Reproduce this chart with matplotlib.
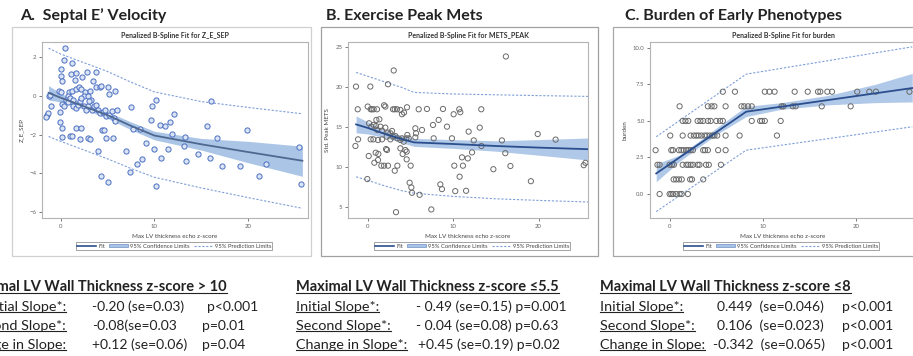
import matplotlib
matplotlib.use("Agg")
import matplotlib.pyplot as plt
from matplotlib.lines import Line2D
from matplotlib.patches import Patch, Rectangle
import numpy as np

W, H = 913, 356

# ---- Panel A : Septal E' velocity (Z_E_SEP) ----
a_x = [0.5, 0.32, 1.25, 0.07, 0.0, 0.18, 1.07, 1.67, 1.53, 2.8, 2.24, 3.8, 3.45, 3.8, 4.16, 4.27,
       5.05, 5.2, 5.8, -0.18, 0.07, 0.9, 0.8, 1.2, 1.67, 1.96, 2.2, 2.56, 3.17, 2.46, 2.95, 3.27,
       -1.25, -1.1, -1.0, -1.46, -1.32, -1.53, -0.1, 0.1, 0.32,
       0.6, 0.78, 1.03, 1.32, 1.32, 1.67, 1.89, 2.03, 2.2, 2.46, 2.74, 2.92, 3.03, 3.38, 3.52,
       3.8, 4.02, 4.23, 4.52, 4.7, 4.88, 5.17, 5.45, 5.67, 5.81, 6.0,
       -0.07, 0.1, 1.6, 2.2, 2.1, 1.03, 1.17, 0.1, 2.88, 3.1, 4.45, 4.6, 4.8, 5.6, 4.0, 4.27, 5.05,
       6.94, 7.55, 7.7, 7.44, 8.43, 8.15, 8.7, 9.15, 9.68, 9.79, 10.14, 9.93, 10.14, 10.64, 10.7,
       11.1, 11.46, 11.7, 12.06, 11.85, 13.13, 13.24, 13.35, 14.66, 15.66, 16.09, 15.98, 16.69,
       17.26, 19.18, 19.89, 21.89, 21.17, 25.44, 25.7]
a_y = [2.45, 1.82, 1.68, 1.37, 1.0, 0.74, 1.13, 1.17, 0.82, 1.2, 0.96, 1.22, 0.74, 0.45, 0.45, 0.52,
       0.45, 0.1, 0.22, 0.27, 0.2, 0.17, -0.03, 0.27, 0.34, 0.45, 0.34, 0.17, 0.26, -0.03, -0.03, -0.21,
       -0.03, 0.05, -0.52, -0.98, -0.89, -1.1, -0.86, -0.43, -0.52,
       -0.21, -0.34, -0.14, -0.21, -0.52, -0.64, -0.46, -0.29, -0.12, -0.52, -0.72, -0.55, -0.29, -0.72, -0.55,
       -0.46, -0.72, -0.89, -0.86, -0.72, -1.06, -0.98, -0.81, -1.15, -1.32, -0.72,
       -1.37, -1.67, -1.67, -1.67, -2.23, -2.06, -2.09, -2.15, -2.18, -2.23, -1.75, -1.79, -2.18, -2.18, -2.87, -4.12, -4.46,
       -2.87, -0.58, -1.72, -3.93, -1.72, -3.52, -3.24, -2.44, -1.27, -0.52, -0.24, -2.73, -4.67, -1.49, -3.21,
       -1.55, -2.75, -1.36, -0.93, -1.96, -2.61, -2.1, -3.38, -3.0, -1.58, -0.29, -3.21, -2.18,
       -3.64, -3.64, -1.75, -3.54, -4.12, -2.64, -4.53]
a_fit_x = [-1.3, 0, 2.5, 5, 7.5, 10, 15, 20, 25.8]
a_fit_y = [0.15, -0.1, -0.55, -1.0, -1.55, -2.05, -2.5, -2.9, -3.35]
a_clm_lo = [-0.22, -0.32, -0.7, -1.17, -1.75, -2.27, -2.8, -3.45, -4.15]
a_clm_hi = [0.52, 0.12, -0.4, -0.83, -1.35, -1.83, -2.2, -2.35, -2.6]
a_pred_lo = [-2.1, -2.35, -2.8, -3.25, -3.75, -4.2, -4.75, -5.25, -5.8]
a_pred_hi = [2.45, 2.15, 1.7, 1.25, 0.7, 0.2, -0.3, -0.6, -0.93]

# ---- Panel B : exercise peak METS ----
b_x = [-1.41, 0.27, 3.01, 2.34, 16.17, -1.21, -0.04, 0.31, 0.47, 0.66, 1.05, 1.88, 2.03, 2.93, 3.13, 3.4,
       3.79, 3.98, 4.22, 4.57, 5.94, 6.91, 8.79, 8.28, 10.04, 10.7, 13.28,
       0.12, 0.39, 0.66, 0.94, 1.09, 1.45, 1.64, 2.03, 2.34, 2.62, 2.81, 2.93, 3.2, 3.44, 3.79, 3.98,
       4.18, 4.49, 4.61, 4.77, 0.98, 1.33, -1.48, -1.17, 0.31, 0.63, 1.17, 1.64, 2.19, 2.62,
       3.79, 4.38, 4.53, 4.06, 2.23, 2.11, 1.21, 0.9, 0.08, 0.74, 1.17, 1.88, 1.56, 2.34, 3.13, 3.44,
       4.53, 5.0, -0.08, 4.88, 5.08, 5.16, 6.05, 7.42, 3.28, 5.55, 5.63, 6.33, 5.55, 7.62, 9.26,
       9.84, 7.7, 10.82, 11.8, 11.02, 8.48, 8.67, 10.23, 10.12, 11.13, 10.74,
       13.1, 12.4, 15.7, 13.3, 12.2, 16.1, 11.7, 14.7, 16.7, 19.1, 11.5, 19.9, 22.0, 25.5, 25.3]
b_y = [20.03, 20.03, 22.04, 20.32, 23.79, 17.19, 17.53, 17.19, 17.19, 17.19, 17.19, 17.69, 17.53, 17.19, 17.19, 17.19,
       17.11, 16.57, 16.77, 17.44, 17.19, 17.23, 17.23, 15.86, 16.57, 17.19, 17.19,
       15.44, 15.02, 15.23, 15.1, 14.6, 15.02, 14.52, 14.9, 14.27, 14.19, 14.48, 13.77, 13.85, 13.56, 13.35, 13.56,
       13.14, 13.56, 13.98, 13.56, 15.86, 15.94, 12.6, 13.43, 13.43, 13.43, 13.35, 13.43, 13.77, 13.43,
       12.31, 12.1, 11.89, 11.6, 12.1, 12.22, 11.6, 11.76, 11.35, 10.51, 10.85, 10.14, 10.14, 10.14, 9.51, 10.14,
       10.93, 10.14, 8.47, 8.01, 7.42, 6.75, 6.5, 4.67, 4.33, 14.81, 14.19, 14.6, 13.68, 15.23, 15.02,
       13.56, 13.56, 16.82, 14.4, 11.18, 7.8, 7.21, 6.96, 10.14, 10.14, 8.76,
       14.9, 13.3, 13.3, 12.6, 11.8, 11.7, 11.05, 9.7, 10.1, 8.2, 7.0, 14.1, 13.4, 10.5, 10.2]
b_fit_x = [-1.4, 0, 2, 4, 5.4, 10, 15, 20, 25.8]
b_fit_y = [15.3, 14.85, 14.1, 13.45, 13.05, 12.85, 12.6, 12.4, 12.2]
b_clm_lo = [14.25, 14.1, 13.65, 13.0, 12.55, 12.3, 11.95, 11.45, 10.85]
b_clm_hi = [16.35, 15.6, 14.55, 13.9, 13.55, 13.4, 13.25, 13.4, 13.6]
b_pred_lo = [8.75, 8.3, 7.6, 7.0, 6.7, 6.3, 6.0, 5.8, 5.6]
b_pred_hi = [21.8, 21.3, 20.6, 19.9, 19.3, 19.1, 19.0, 18.9, 18.8]

# ---- Panel C : burden of early phenotypes ----
c_x = [5.7, 7.0, 10.2, 10.7, 11.25, 13.4, 14.8, 15.9, 16.15, 16.9, 17.4, 20.1, 21.4, 22.1, 25.7,
       1.07, 4.1, 4.5, 4.8, 6.0, 7.7, 8.0, 8.4, 8.8, 12.0, 12.2, 13.2, 13.5, 16.3, 19.4,
       1.4, 1.7, 2.0, 3.0, 3.3, 3.6, 4.1, 4.4, 5.0, 5.4, 5.7, 8.8, 9.7, 9.9, 10.2, 11.9,
       0.07, 1.4, 2.25, 2.6, 2.86, 3.1, 3.4, 3.75, 4.0, 4.3, 4.6, 4.8, 5.1, 6.0, 7.5, 11.5,
       -1.5, 0.18, 0.36, 1.0, 1.25, 1.5, 1.8, 2.0, 2.25, 2.5, 3.6, 3.8, 4.1, 5.2, 6.0,
       -1.3, -1.07, 0.0, 0.25, 0.46, 1.4, 1.8, 2.0, 2.25, 2.5, 3.0, 3.2, 3.9, 4.2, 5.5,
       0.43, 0.7, 1.0, 1.3, 2.2, 2.4, 3.6,
       -1.07, 0.0, 0.18, 0.36, 0.7, 1.07, 1.3, 1.96]
c_y = [7] * 15 + [6] * 15 + [5] * 16 + [4] * 16 + [3] * 15 + [2] * 15 + [1] * 7 + [0] * 8
c_fit_x = [-1.43, 8.2, 26.0]
c_fit_y = [1.41, 5.63, 7.25]
c_band_x = [-1.43, 1.0, 3.0, 5.5, 8.2, 12, 17, 22, 26.0]
c_clm_lo = [0.84, 2.2, 3.15, 4.25, 5.3, 5.8, 6.1, 6.25, 6.3]
c_clm_hi = [2.05, 2.65, 3.55, 4.75, 6.0, 6.25, 6.75, 7.5, 8.25]
c_pred_x = [-1.43, 8.2, 26.0]
c_pred_lo = [-1.2, 3.0, 4.6]
c_pred_hi = [3.92, 8.2, 10.07]

TEXT = "#222222"
BLUE_LINE = "#2b4f8e"
BAND = "#a9c3e6"
PRED = "#7f9fd8"


def fx(x):
    return x / W


def fy(y):
    return 1 - y / H


def make_axes(left, right, top, bottom):
    return fig.add_axes([fx(left), fy(bottom), (right - left) / W, (bottom - top) / H])


def style_panel(ax, title, ylabel, yticks, ylim, xlim, leg_center):
    ax.set_xlim(*xlim)
    ax.set_ylim(*ylim)
    ax.set_xticks([0, 10, 20])
    ax.set_yticks(yticks)
    ax.tick_params(labelsize=4.3, colors="#666666", length=2, width=0.6, pad=2)
    for s in ax.spines.values():
        s.set_color("#b4b4b4")
        s.set_linewidth(0.8)
    ax.set_title(title, fontsize=5, fontweight="bold", color="#333333", pad=3)
    ax.set_xlabel("Max LV thickness echo z-score", fontsize=4.5, color="#444444", labelpad=4)
    ax.set_ylabel(ylabel, fontsize=4.5, color="#444444", labelpad=4)
    handles = [Line2D([], [], color=BLUE_LINE, lw=1.2),
               Patch(facecolor=BAND, edgecolor="#6f8fc6", lw=0.5),
               Line2D([], [], color=PRED, lw=0.8, ls=(0, (2, 1.5)))]
    leg = fig.legend(handles, ["Fit", "95% Confidence Limits", "95% Prediction Limits"],
                     loc="center", bbox_to_anchor=(fx(leg_center), fy(246)), ncol=3,
                     fontsize=4.2, frameon=True, fancybox=False, handlelength=3.2,
                     handleheight=0.6, handletextpad=0.4, columnspacing=0.7, borderpad=0.25,
                     labelcolor="#444444")
    leg.get_frame().set_edgecolor("#777777")
    leg.get_frame().set_linewidth(0.6)


fig = plt.figure(figsize=(W / 100, H / 100), dpi=100)
plt.rcParams["font.family"] = ["Lato", "DejaVu Sans"]

# panel frames
for (l, t, r, b, c) in [(12, 27, 311, 256, "#d0d0d0"), (321, 27, 598, 256, "#a0a0a0"),
                        (613, 27, 920, 256, "#a8a8a8")]:
    fig.add_artist(Rectangle((fx(l), fy(b)), (r - l) / W, (b - t) / H, transform=fig.transFigure,
                             fill=False, edgecolor=c, lw=0.9))

# Panel A
axA = make_axes(42, 308, 42, 218)
axA.fill_between(a_fit_x, a_clm_lo, a_clm_hi, color="#9dbbe3", alpha=0.85, lw=0)
axA.plot(a_fit_x, a_pred_lo, color=PRED, lw=0.8, ls=(0, (2, 1.5)))
axA.plot(a_fit_x, a_pred_hi, color=PRED, lw=0.8, ls=(0, (2, 1.5)))
axA.scatter(a_x, a_y, s=14, facecolor="#dbe4f5", edgecolor="#4b6fc2", lw=0.7, zorder=3)
axA.plot(a_fit_x, a_fit_y, color="#4e6891", lw=1.3, zorder=4)
style_panel(axA, "Penalized B-Spline Fit for Z_E_SEP", "Z_E_SEP", [2, 0, -2, -4, -6],
            (-6.3, 2.77), (-2.0, 26.4), 174)

# Panel B
axB = make_axes(348, 588, 42, 218)
axB.fill_between(b_fit_x, b_clm_lo, b_clm_hi, color=BAND, alpha=0.9, lw=0)
axB.plot(b_fit_x, b_pred_lo, color=PRED, lw=0.8, ls=(0, (2, 1.5)))
axB.plot(b_fit_x, b_pred_hi, color=PRED, lw=0.8, ls=(0, (2, 1.5)))
axB.scatter(b_x, b_y, s=14, facecolor="none", edgecolor="#6a6a6a", lw=0.7, zorder=3)
axB.plot(b_fit_x, b_fit_y, color=BLUE_LINE, lw=1.3, zorder=4)
style_panel(axB, "Penalized B-Spline Fit for METS_PEAK", "Std. Peak METS", [5, 10, 15, 20, 25],
            (3.6, 25.6), (-2.35, 25.8), 472)

# Panel C
axC = make_axes(650, 916, 42, 218)
axC.fill_between(c_band_x, c_clm_lo, c_clm_hi, color=BAND, alpha=0.9, lw=0)
axC.plot(c_pred_x, c_pred_lo, color=PRED, lw=0.8, ls=(0, (2, 1.5)))
axC.plot(c_pred_x, c_pred_hi, color=PRED, lw=0.8, ls=(0, (2, 1.5)))
axC.scatter(c_x, c_y, s=14, facecolor="none", edgecolor="#6a6a6a", lw=0.7, zorder=3)
axC.plot(c_fit_x, c_fit_y, color=BLUE_LINE, lw=1.3, zorder=4)
style_panel(axC, "Penalized B-Spline Fit for burden", "burden", [0, 2.5, 5, 7.5, 10],
            (-1.64, 10.4), (-2.1, 26.4), 781)
axC.yaxis.set_major_formatter(matplotlib.ticker.FormatStrFormatter("%.1f"))

# panel headings
for x, label in [(20, "A.  Septal E\u2019 Velocity"), (326, "B. Exercise Peak Mets"),
                 (625, "C. Burden of Early Phenotypes")]:
    fig.text(fx(x), fy(16), label, fontsize=11.5, fontweight="bold", color=TEXT, va="center")

# slope tables under the panels
underlined = []
row_y = [307, 326, 345]
LAB = 10.4
VAL = 10

t = fig.text(fx(227), fy(287), "Maximal LV Wall Thickness z-score > 10", fontsize=10.5,
             fontweight="bold", color=TEXT, ha="right", va="center")
underlined.append(t)
for y, lab in zip(row_y, ["Initial Slope*:", "Second Slope*:", "Change in Slope:"]):
    underlined.append(fig.text(fx(66), fy(y), lab, fontsize=LAB, color=TEXT, ha="right", va="center"))
for y, val in zip(row_y, ["-0.20 (se=0.03)", "-0.08(se=0.03", "+0.12 (se=0.06)"]):
    fig.text(fx(92), fy(y), val, fontsize=VAL, color=TEXT, va="center")
for y, x, p in zip(row_y, [207, 202, 202], ["p<0.001", "p=0.01", "p=0.04"]):
    fig.text(fx(x), fy(y), p, fontsize=VAL, color=TEXT, va="center")

t = fig.text(fx(296), fy(287), "Maximal LV Wall Thickness z-score \u22645.5", fontsize=10.5,
             fontweight="bold", color=TEXT, va="center")
underlined.append(t)
for y, lab in zip(row_y, ["Initial Slope*:", "Second Slope*:", "Change in Slope*:"]):
    underlined.append(fig.text(fx(296), fy(y), lab, fontsize=LAB, color=TEXT, va="center"))
for y, x, val in zip(row_y, [416, 416, 418], ["- 0.49 (se=0.15) p=0.001", "- 0.04 (se=0.08) p=0.63",
                                               "+0.45 (se=0.19) p=0.02"]):
    fig.text(fx(x), fy(y), val, fontsize=VAL, color=TEXT, va="center")

t = fig.text(fx(600), fy(287), "Maximal LV Wall Thickness z-score \u22648", fontsize=10.5,
             fontweight="bold", color=TEXT, va="center")
underlined.append(t)
for y, lab in zip(row_y, ["Initial Slope*:", "Second Slope*:", "Change in Slope:"]):
    underlined.append(fig.text(fx(600), fy(y), lab, fontsize=LAB, color=TEXT, va="center"))
for y, x, val in zip(row_y, [717, 717, 713], ["0.449  (se=0.046)", "0.106  (se=0.023)",
                                               "-0.342  (se=0.065)"]):
    fig.text(fx(x), fy(y), val, fontsize=VAL, color=TEXT, va="center")
for y in row_y:
    fig.text(fx(842), fy(y), "p<0.001", fontsize=VAL, color=TEXT, va="center")

# underline the labels (matplotlib has no underline style)
fig.canvas.draw()
renderer = fig.canvas.get_renderer()
for t in underlined:
    bb = t.get_window_extent(renderer)
    yline = (bb.y0 + 1.2) / H
    fig.add_artist(Line2D([bb.x0 / W, bb.x1 / W], [yline, yline], transform=fig.transFigure,
                          color=TEXT, lw=0.8))

fig.savefig("out.png", dpi=100)
